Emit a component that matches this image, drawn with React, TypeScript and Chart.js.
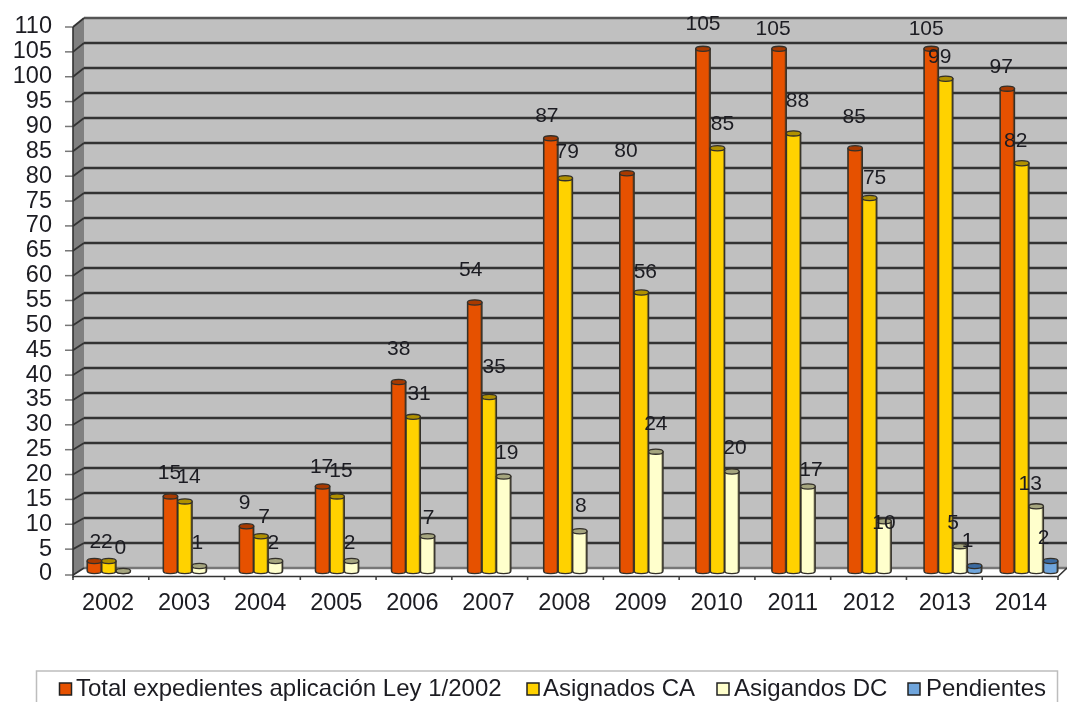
import React, { useEffect, useRef } from "react";
import { Chart, registerables } from "chart.js";

Chart.register(...registerables);

const years = ["2002", "2003", "2004", "2005", "2006", "2007", "2008", "2009", "2010", "2011", "2012", "2013", "2014"];
const totalExpedientes = [2, 15, 9, 17, 38, 54, 87, 80, 105, 105, 85, 105, 97];
const asignadosCA = [2, 14, 7, 15, 31, 35, 79, 56, 85, 88, 75, 99, 82];
const asignadosDC = [0, 1, 2, 2, 7, 19, 8, 24, 20, 17, 10, 5, 13];
const pendientes = [null, null, null, null, null, null, null, null, null, null, null, 1, 2];
const seriesNames = ["Total expedientes aplicación Ley 1/2002", "Asignados CA", "Asigandos DC", "Pendientes"];

// Hand-placed label nudges (dx, distance above the bar top) as in the reference
const labelNudges: [number, number][][] = [
  [[1, 19], [-1, 23], [-2, 23], [-1, 19], [0, 33], [-4, 32], [-4, 22], [-1, 22], [0, 25], [-6, 20], [-1, 31], [-5, 20], [-6, 21]],
  [[-2, 19], [4, 24], [3, 19], [4, 25], [6, 23], [5, 30], [2, 26], [4, 20], [5, 24], [4, 32], [5, 20], [-6, 21], [-6, 22]],
  [[-3, 23], [-2, 23], [-2, 18], [-2, 18], [1, 18], [3, 23], [1, 25], [0, 27], [3, 23], [3, 16], [0, -2], [-7, 23], [-6, 22]],
  [[0, 0], [0, 0], [0, 0], [0, 0], [0, 0], [0, 0], [0, 0], [0, 0], [0, 0], [0, 0], [0, 0], [-7, 25], [-7, 23]],
];

const fills = ["#E65100", "#FFD200", "#FFFFCC", "#6FA5DC"];
const caps = ["#A83A00", "#B09000", "#A5A57E", "#3A6AA0"];
const FONT = '"Liberation Sans", Arial, sans-serif';
const INK = "#1c1c22";

const wall3d = {
  id: "wall3d",
  beforeDatasetsDraw(chart: any) {
    const { ctx, scales } = chart;
    const y = scales.y;
    const leftF = 73, leftB = 84, rightF = 1058, rightB = 1067;
    const back = (v: number) => y.getPixelForValue(v) - 3 - (v / 110) * 3;
    const front = (v: number) => y.getPixelForValue(v) + 3;
    ctx.save();
    ctx.fillStyle = "#C0C0C0";
    ctx.fillRect(leftB, back(110), rightB - leftB, back(0) - back(110));
    ctx.fillStyle = "#808080";
    ctx.beginPath();
    ctx.moveTo(leftF, front(110));
    ctx.lineTo(leftB, back(110));
    ctx.lineTo(leftB, back(0));
    ctx.lineTo(leftF, front(0) + 2);
    ctx.closePath();
    ctx.fill();
    ctx.fillStyle = "#FFFFFF";
    ctx.beginPath();
    ctx.moveTo(leftF, front(0) + 2);
    ctx.lineTo(leftB, back(0));
    ctx.lineTo(rightB, back(0));
    ctx.lineTo(rightF, front(0) + 2);
    ctx.closePath();
    ctx.fill();
    for (const t of y.ticks) {
      const v = t.value;
      const isTop = v === 110;
      const isZero = v === 0;
      ctx.lineWidth = 2.4;
      ctx.strokeStyle = isTop ? "#555555" : isZero ? "#777777" : "#333333";
      ctx.beginPath();
      ctx.moveTo(leftB, back(v));
      ctx.lineTo(rightB, back(v));
      ctx.stroke();
      ctx.strokeStyle = "#333333";
      ctx.lineWidth = 1.8;
      ctx.beginPath();
      ctx.moveTo(leftF, front(v) + (isZero ? 1 : 0));
      ctx.lineTo(leftB, back(v));
      ctx.stroke();
      ctx.strokeStyle = "#777777";
      ctx.lineWidth = 1.5;
      ctx.beginPath();
      ctx.moveTo(65, front(v) + (isZero ? 1 : 0));
      ctx.lineTo(leftF, front(v) + (isZero ? 1 : 0));
      ctx.stroke();
    }
    ctx.strokeStyle = "#333333";
    ctx.lineWidth = 1.6;
    ctx.beginPath();
    ctx.moveTo(leftF, front(110));
    ctx.lineTo(leftF, front(0) + 4);
    ctx.moveTo(leftF, front(0) + 2.5);
    ctx.lineTo(rightF, front(0) + 2.5);
    ctx.lineTo(rightB, back(0));
    ctx.stroke();
    const step = (rightF - leftF) / years.length;
    ctx.strokeStyle = "#444444";
    for (let i = 0; i <= years.length; i++) {
      ctx.beginPath();
      ctx.moveTo(leftF + i * step, front(0) + 2.5);
      ctx.lineTo(leftF + i * step, front(0) + 6);
      ctx.stroke();
    }
    ctx.restore();
  },
};

const cylinders = {
  id: "cylinders",
  afterDatasetsDraw(chart: any) {
    const { ctx } = chart;
    ctx.save();
    chart.data.datasets.forEach((ds: any, di: number) => {
      const meta = chart.getDatasetMeta(di);
      meta.data.forEach((bar: any, i: number) => {
        if (ds.data[i] === null) return;
        const x0 = bar.x - bar.width / 2;
        const x1 = bar.x + bar.width / 2;
        const rx = bar.width / 2;
        const ry = 2.6;
        const g = ctx.createLinearGradient(x0, 0, x1, 0);
        g.addColorStop(0, "#3a3320");
        g.addColorStop(0.1, fills[di]);
        g.addColorStop(0.85, fills[di]);
        g.addColorStop(1, "#3a3320");
        ctx.beginPath();
        ctx.moveTo(x0, bar.y);
        ctx.lineTo(x0, bar.base);
        ctx.ellipse(bar.x, bar.base, rx, ry, 0, Math.PI, 0, true);
        ctx.lineTo(x1, bar.y);
        ctx.closePath();
        ctx.fillStyle = g;
        ctx.fill();
        ctx.strokeStyle = "#33302a";
        ctx.lineWidth = 1.3;
        ctx.stroke();
        ctx.beginPath();
        ctx.ellipse(bar.x, bar.y, rx, ry, 0, 0, Math.PI * 2);
        ctx.fillStyle = caps[di];
        ctx.fill();
        ctx.stroke();
      });
    });
    ctx.fillStyle = INK;
    ctx.font = `21px ${FONT}`;
    ctx.textAlign = "center";
    ctx.textBaseline = "middle";
    chart.data.datasets.forEach((ds: any, di: number) => {
      chart.getDatasetMeta(di).data.forEach((bar: any, i: number) => {
        if (ds.data[i] === null) return;
        const [dx, up] = labelNudges[di][i];
        ctx.fillText(String(ds.data[i]), bar.x + dx, bar.y - up);
      });
    });
    ctx.restore();
  },
};

const legendBox = {
  id: "legendBox",
  afterDraw(chart: any) {
    const { ctx } = chart;
    const markerX = [59.5, 527, 717, 908];
    const textX = [76, 543, 734, 926];
    ctx.save();
    ctx.strokeStyle = "#bdbdbd";
    ctx.lineWidth = 1.5;
    ctx.strokeRect(36.5, 671, 1021, 60);
    ctx.font = `24px ${FONT}`;
    ctx.textBaseline = "middle";
    ctx.textAlign = "left";
    seriesNames.forEach((name, i) => {
      ctx.fillStyle = fills[i];
      ctx.strokeStyle = "#222222";
      ctx.lineWidth = 1.5;
      ctx.fillRect(markerX[i], 683, 12, 12);
      ctx.strokeRect(markerX[i], 683, 12, 12);
      ctx.fillStyle = INK;
      ctx.fillText(name, textX[i], 689);
    });
    ctx.restore();
  },
};

export default function App() {
  const ref = useRef<HTMLCanvasElement>(null);
  useEffect(() => {
    const chart = new Chart(ref.current as HTMLCanvasElement, {
      type: "bar",
      data: {
        labels: years,
        datasets: [totalExpedientes, asignadosCA, asignadosDC, pendientes].map((d, i) => ({
          label: seriesNames[i],
          data: d as any,
          backgroundColor: fills[i],
          categoryPercentage: 0.76,
          barPercentage: 1,
        })),
      },
      options: {
        responsive: false,
        animation: false,
        devicePixelRatio: 1,
        layout: { autoPadding: false, padding: { top: 24, left: 0, right: 0, bottom: 0 } },
        plugins: { legend: { display: false }, tooltip: { enabled: false }, title: { display: false } },
        scales: {
          x: {
            grid: { display: false, drawTicks: true, tickLength: 18 },
            border: { display: false },
            afterFit(s: any) { s.height = 131; },
            ticks: {
              autoSkip: false,
              maxRotation: 0,
              minRotation: 0,
              padding: 0,
              labelOffset: -8,
              color: INK,
              font: { family: FONT, size: 23.5 },
            },
          },
          y: {
            min: 0,
            max: 110,
            grid: { display: false, drawTicks: true, tickLength: 18 },
            border: { display: false },
            afterFit(s: any) { s.width = 78; },
            ticks: {
              stepSize: 5,
              autoSkip: false,
              padding: 8,
              labelOffset: 3,
              color: INK,
              font: { family: FONT, size: 23.5 },
            },
          },
        },
      },
      plugins: [wall3d, cylinders, legendBox],
    } as any);
    return () => chart.destroy();
  }, []);
  return (
    <div style={{ position: "fixed", left: 0, top: 0, width: 1067, height: 702, background: "#fff", overflow: "hidden" }}>
      <canvas ref={ref} width={1067} height={702} style={{ display: "block", filter: "blur(0.5px)" }} />
    </div>
  );
}
